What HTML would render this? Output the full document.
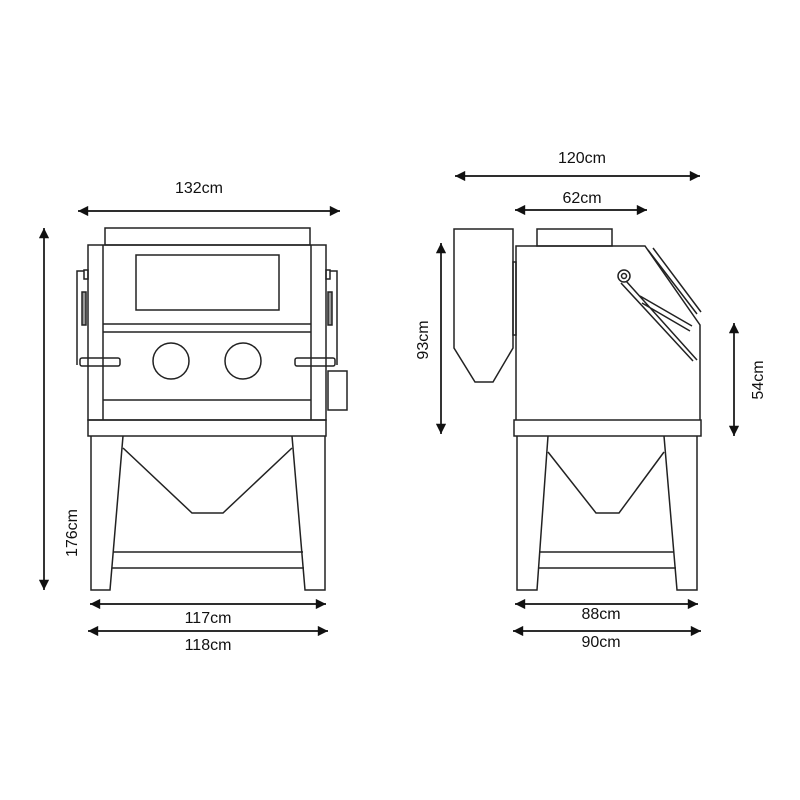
<!DOCTYPE html>
<html><head><style>body{margin:0;background:#fff}svg{display:block}text{font-family:"Liberation Sans",sans-serif;font-size:16px;fill:#111}</style></head><body>
<svg width="800" height="800" viewBox="0 0 800 800">
<defs><marker id="a" viewBox="0 0 10 10" refX="10" refY="5" markerWidth="9" markerHeight="6" orient="auto-start-reverse" markerUnits="strokeWidth"><path d="M0,0L10,5L0,10z" fill="#111"/></marker></defs>
<g stroke="#111" stroke-width="1.7" marker-start="url(#a)" marker-end="url(#a)" fill="none">
<line x1="78" y1="211" x2="340" y2="211"/>
<line x1="44" y1="228" x2="44" y2="590"/>
<line x1="90" y1="604" x2="326" y2="604"/>
<line x1="88" y1="631" x2="328" y2="631"/>
<line x1="455" y1="176" x2="700" y2="176"/>
<line x1="515" y1="210" x2="647" y2="210"/>
<line x1="441" y1="243" x2="441" y2="434"/>
<line x1="734" y1="323" x2="734" y2="436"/>
<line x1="515" y1="604" x2="698" y2="604"/>
<line x1="513" y1="631" x2="701" y2="631"/>
</g>
<text x="199" y="193" text-anchor="middle">132cm</text>
<text x="208" y="623" text-anchor="middle">117cm</text>
<text x="208" y="650" text-anchor="middle">118cm</text>
<text transform="translate(77,533) rotate(-90)" text-anchor="middle">176cm</text>
<text x="582" y="163" text-anchor="middle">120cm</text>
<text x="582" y="203" text-anchor="middle">62cm</text>
<text x="601" y="619" text-anchor="middle">88cm</text>
<text x="601" y="647" text-anchor="middle">90cm</text>
<text transform="translate(428,340) rotate(-90)" text-anchor="middle">93cm</text>
<text transform="translate(763,380) rotate(-90)" text-anchor="middle">54cm</text>
<g stroke="#222" stroke-width="1.5" fill="none">
<rect x="105" y="228" width="205" height="17"/>
<rect x="88" y="245" width="238" height="175"/>
<line x1="103" y1="245" x2="103" y2="420"/><line x1="311" y1="245" x2="311" y2="420"/>
<rect x="136" y="255" width="143" height="55"/>
<line x1="103" y1="324" x2="311" y2="324"/><line x1="103" y1="332" x2="311" y2="332"/>
<circle cx="171" cy="361" r="18"/><circle cx="243" cy="361" r="18"/>
<line x1="103" y1="400" x2="311" y2="400"/>
<rect x="88" y="420" width="238" height="16"/>
<path d="M91,436V590H110L123,436"/><path d="M325,436V590H305L292,436"/>
<path d="M123,448L192,513H223L292,448"/>
<line x1="113" y1="552" x2="303" y2="552"/><line x1="112" y1="568" x2="304" y2="568"/>
<path d="M84,271H77V365"/><rect x="84" y="270" width="4" height="9"/><rect x="82" y="292" width="4" height="33" fill="#999"/>
<rect x="80" y="358" width="40" height="8" rx="2"/>
<path d="M330,271H337V365"/><rect x="326" y="270" width="4" height="9"/><rect x="328" y="292" width="4" height="33" fill="#999"/>
<rect x="295" y="358" width="40" height="8" rx="2"/>
<rect x="328" y="371" width="19" height="39"/>
<path d="M454,229H513V348L493,382H475L454,348Z"/>
<rect x="537" y="229" width="75" height="17"/>
<path d="M516,420V246H645L700,325V420"/>
<rect x="513" y="262" width="3" height="73"/>
<path d="M648,250L697,314M653,248L701,312"/>
<circle cx="624" cy="276" r="6"/><circle cx="624" cy="276" r="2.5"/>
<path d="M626,281L697,360M621,283L693,361M640,296L692,326M642,303L690,331"/>
<rect x="514" y="420" width="187" height="16"/>
<path d="M517,436V590H537L548,436"/><path d="M697,436V590H677L664,436"/>
<path d="M548,452L596,513H619L664,452"/>
<line x1="539" y1="552" x2="674" y2="552"/><line x1="538" y1="568" x2="676" y2="568"/>
</g>
</svg>
</body></html>
